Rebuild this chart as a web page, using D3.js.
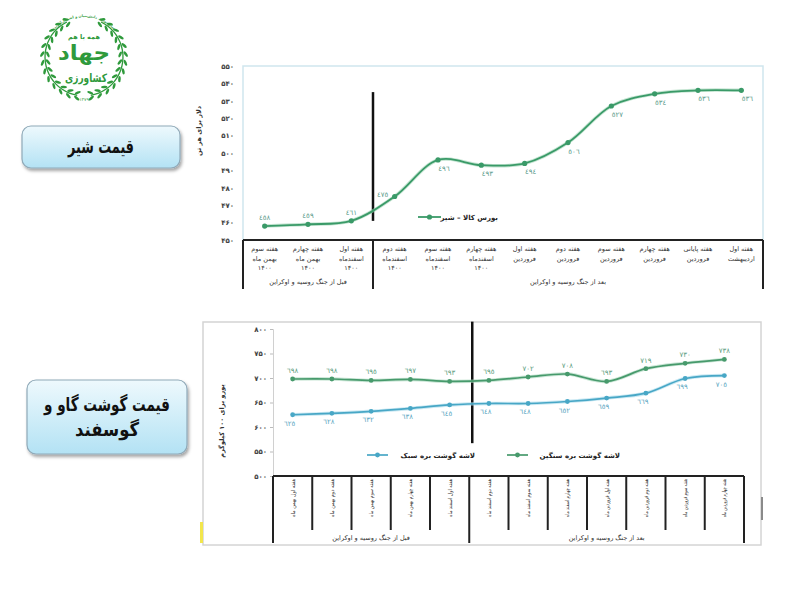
<!DOCTYPE html>
<html>
<head>
<meta charset="utf-8">
<script src="https://cdn.jsdelivr.net/npm/d3@7"></script>
<style>
  body { margin: 0; background: #fff; }
  svg { font-family: "DejaVu Sans", "Noto Sans", sans-serif; }
</style>
</head>
<body>
<svg id="page" width="800" height="600"></svg>
<script>
// ---- milk chart data ----
const milkCategories = [
    ["هفته سوم", "بهمن ماه", "۱۴۰۰"],
    ["هفته چهارم", "بهمن ماه", "۱۴۰۰"],
    ["هفته اول", "اسفندماه", "۱۴۰۰"],
    ["هفته دوم", "اسفندماه", "۱۴۰۰"],
    ["هفته سوم", "اسفندماه", "۱۴۰۰"],
    ["هفته چهارم", "اسفندماه", "۱۴۰۰"],
    ["هفته اول", "فروردین"],
    ["هفته دوم", "فروردین"],
    ["هفته سوم", "فروردین"],
    ["هفته چهارم", "فروردین"],
    ["هفته پایانی", "فروردین"],
    ["هفته اول", "اردیبهشت"]
];
const milkValues = [458, 459, 461, 475, 496, 493, 494, 506, 527, 534, 536, 536];
const milkTicks = [450, 460, 470, 480, 490, 500, 510, 520, 530, 540, 550];
const milkGroups = ["قبل از جنگ روسیه و اوکراین", "بعد از جنگ روسیه و اوکراین"];
const milkGroupSizes = [3, 9];

// ---- meat chart data ----
const meatCategories = [
    "هفته اول بهمن ماه", "هفته دوم بهمن ماه", "هفته سوم بهمن ماه", "هفته چهارم بهمن ماه",
    "هفته اول اسفند ماه", "هفته دوم اسفند ماه", "هفته سوم اسفند ماه", "هفته چهارم اسفند ماه",
    "هفته اول فروردین ماه", "هفته دوم فروردین ماه", "هفته سوم فروردین ماه", "هفته چهارم فروردین ماه"
];
const heavyLamb = [698, 698, 695, 697, 693, 695, 702, 708, 693, 719, 730, 738];
const lightLamb = [625, 628, 632, 638, 645, 648, 648, 652, 659, 669, 699, 705];
const meatTicks = [500, 550, 600, 650, 700, 750, 800];
const meatGroups = ["قبل از جنگ روسیه و اوکراین", "بعد از جنگ روسیه و اوکراین"];
const meatGroupSizes = [5, 7];

// digits
const faDigits = "۰۱۲۳۴۵۶۷۸۹";
const arDigits = "٠١٢٣٤٥٦٧٨٩";
const toFa = n => String(n).replace(/\d/g, d => faDigits[d]);
const toAr = n => String(n).replace(/\d/g, d => arDigits[d]);

const svg = d3.select("#page");
const defs = svg.append("defs");

// ---------- logo ----------
function drawLogo() {
    const g = svg.append("g").attr("transform", "translate(84,57)");
    const green = "#2f9a3c";
    const r = 39;
    const sides = [d3.range(100, 245, 12), d3.range(80, -65, -12)];
    sides.forEach(angles => {
        const pts = angles.map(a => [r * Math.cos(a * Math.PI / 180), r * Math.sin(a * Math.PI / 180)]);
        g.append("path")
            .attr("d", d3.line().curve(d3.curveCardinal)(pts))
            .attr("fill", "none").attr("stroke", green).attr("stroke-width", 1.3);
        angles.forEach(a => {
            const rad = a * Math.PI / 180;
            [-2.8, 2.8].forEach(off => {
                const rr = r + off;
                const px = rr * Math.cos(rad), py = rr * Math.sin(rad);
                g.append("ellipse")
                    .attr("cx", px).attr("cy", py)
                    .attr("rx", 3.2).attr("ry", 1.3)
                    .attr("transform", `rotate(${a + 90 + (off > 0 ? 30 : -30) * (a > 90 ? 1 : -1)},${px},${py})`)
                    .attr("fill", green);
            });
        });
    });
    defs.append("path").attr("id", "logoArc")
        .attr("d", "M-30,-27 A41,41 0 0,1 30,-27");
    g.append("text").attr("font-size", 3.6).attr("fill", green).attr("font-weight", "bold")
        .append("textPath").attr("href", "#logoArc").attr("startOffset", "50%")
        .attr("text-anchor", "middle").text("سال تولید، دانش‌بنیان و اشتغال‌آفرین");
    g.append("text").attr("y", -18).attr("text-anchor", "middle")
        .attr("font-size", 6.5).attr("font-weight", "bold").attr("fill", green).text("همه با هم");
    g.append("text").attr("y", 3).attr("text-anchor", "middle")
        .attr("font-size", 21).attr("font-weight", "bold").attr("fill", green)
        .attr("textLength", 52).attr("lengthAdjust", "spacingAndGlyphs").text("جهاد");
    g.append("text").attr("x", 2).attr("y", 25).attr("text-anchor", "middle")
        .attr("font-size", 11.5).attr("font-weight", "bold").attr("fill", green)
        .attr("textLength", 42).attr("lengthAdjust", "spacingAndGlyphs").text("کشاورزی");
    g.append("text").attr("y", 44).attr("text-anchor", "middle")
        .attr("font-size", 4.5).attr("fill", green).text(toFa(1379));
}

// ---------- title boxes ----------
const grad = defs.append("linearGradient").attr("id", "boxGrad")
    .attr("x1", 0).attr("y1", 0).attr("x2", 0).attr("y2", 1);
grad.append("stop").attr("offset", "0%").attr("stop-color", "#eef9fd");
grad.append("stop").attr("offset", "100%").attr("stop-color", "#b3e2f4");
const shadow = defs.append("filter").attr("id", "shadow")
    .attr("x", "-10%").attr("y", "-10%").attr("width", "130%").attr("height", "140%");
shadow.append("feDropShadow").attr("dx", 1.5).attr("dy", 2.5).attr("stdDeviation", 1.5)
    .attr("flood-color", "#000").attr("flood-opacity", 0.35);

function titleBox(x, y, w, h, lines, widths) {
    const g = svg.append("g");
    g.append("rect").attr("x", x).attr("y", y).attr("width", w).attr("height", h)
        .attr("rx", 9).attr("fill", "url(#boxGrad)")
        .attr("stroke", "#8fa9b8").attr("stroke-width", 1.2)
        .attr("filter", "url(#shadow)");
    const lh = 25;
    const y0 = y + h / 2 - (lines.length - 1) * lh / 2 + 6;
    lines.forEach((t, i) => {
        g.append("text").attr("x", x + w / 2).attr("y", y0 + i * lh)
            .attr("text-anchor", "middle").attr("font-size", 19).attr("font-weight", "bold")
            .attr("textLength", widths[i]).attr("lengthAdjust", "spacingAndGlyphs")
            .attr("fill", "#111").text(t);
    });
}

// ---------- milk chart ----------
function drawMilk() {
    const left = 243, right = 763, top = 66, bottom = 240;
    const x = d3.scaleBand().domain(d3.range(milkValues.length)).range([left, right]);
    const y = d3.scaleLinear().domain([450, 550]).range([bottom, top]);
    const cx = i => x(i) + x.bandwidth() / 2;
    const green = "#3a9a68";

    svg.append("rect").attr("x", left).attr("y", top).attr("width", right - left).attr("height", bottom - top)
        .attr("fill", "none").attr("stroke", "#cfe6ee").attr("stroke-width", 1.5);

    const ax = svg.append("g").attr("transform", `translate(${left},0)`)
        .call(d3.axisLeft(y).tickValues(milkTicks).tickSize(0).tickPadding(9).tickFormat(toFa));
    ax.select(".domain").remove();
    ax.selectAll("text").attr("font-size", 7).attr("font-weight", "bold").attr("fill", "#444")
        .attr("font-family", "DejaVu Sans");

    svg.append("text").attr("transform", `translate(201,${(top + bottom) / 2 - 22}) rotate(-90)`)
        .attr("text-anchor", "middle").attr("font-size", 6.5).attr("font-weight", "bold").attr("fill", "#333")
        .text("دلار برای هر تن");

    // war separator
    const sepX = x(milkGroupSizes[0]);
    svg.append("line").attr("x1", sepX).attr("x2", sepX).attr("y1", y(535)).attr("y2", y(461))
        .attr("stroke", "#111").attr("stroke-width", 2.5);

    const line = d3.line().x((d, i) => cx(i)).y(d => y(d)).curve(d3.curveCatmullRom.alpha(0.5));
    svg.append("path").datum(milkValues).attr("d", line)
        .attr("fill", "none").attr("stroke", "#9fd3b4").attr("stroke-width", 3.5).attr("opacity", 0.6);
    svg.append("path").datum(milkValues).attr("d", line)
        .attr("fill", "none").attr("stroke", green).attr("stroke-width", 1.8);
    svg.selectAll(".milkPt").data(milkValues).enter().append("circle")
        .attr("cx", (d, i) => cx(i)).attr("cy", d => y(d)).attr("r", 2.6).attr("fill", green);

    svg.selectAll(".milkLbl").data(milkValues).enter().append("text")
        .attr("x", (d, i) => cx(i) + (i < 3 ? 0 : i === 3 ? -12 : 6))
        .attr("y", (d, i) => y(d) + (i < 3 ? -6 : i === 3 ? 0 : 11))
        .attr("text-anchor", "middle").attr("font-size", 7).attr("fill", "#5c9c8c")
        .text(d => toAr(d));

    // legend
    svg.append("line").attr("x1", 418).attr("x2", 441).attr("y1", 217).attr("y2", 217)
        .attr("stroke", green).attr("stroke-width", 1.8);
    svg.append("circle").attr("cx", 429.5).attr("cy", 217).attr("r", 2.6).attr("fill", green);
    svg.append("text").attr("x", 498).attr("y", 220).attr("text-anchor", "end")
        .attr("font-size", 7).attr("font-weight", "bold").attr("fill", "#222").text("بورس کالا – شیر");

    // category table
    svg.append("line").attr("x1", left).attr("x2", right).attr("y1", bottom).attr("y2", bottom)
        .attr("stroke", "#222").attr("stroke-width", 2);
    [0, milkGroupSizes[0], milkValues.length].forEach(k => {
        const xx = k === milkValues.length ? right : x(k);
        svg.append("line").attr("x1", xx).attr("x2", xx).attr("y1", bottom).attr("y2", 289)
            .attr("stroke", "#222").attr("stroke-width", 2);
    });
    milkCategories.forEach((lines, i) => {
        lines.forEach((t, j) => {
            svg.append("text").attr("x", cx(i)).attr("y", 251 + j * 9.5)
                .attr("text-anchor", "middle").attr("font-size", 6.5).attr("fill", "#333").text(t);
        });
    });
    let start = 0;
    milkGroups.forEach((g, k) => {
        const end = start + milkGroupSizes[k];
        const mid = (x(start) + (end === milkValues.length ? right : x(end))) / 2;
        svg.append("text").attr("x", mid).attr("y", 284).attr("text-anchor", "middle")
            .attr("font-size", 6.5).attr("fill", "#333").text(g);
        start = end;
    });
}

// ---------- meat chart ----------
function drawMeat() {
    const left = 273, right = 744, top = 329, bottom = 476;
    const x = d3.scaleBand().domain(d3.range(meatCategories.length)).range([left, right]);
    const y = d3.scaleLinear().domain([500, 800]).range([bottom, top]);
    const cx = i => x(i) + x.bandwidth() / 2;
    const green = "#479a6c", blue = "#48a7c6";

    // outer frame
    svg.append("rect").attr("x", 203).attr("y", 322).attr("width", 558).attr("height", 223)
        .attr("fill", "none").attr("stroke", "#d4d4d4").attr("stroke-width", 1.5);
    svg.append("rect").attr("x", 200).attr("y", 522).attr("width", 3).attr("height", 21).attr("fill", "#f2e64c");
    svg.append("rect").attr("x", 761).attr("y", 497).attr("width", 2).attr("height", 23).attr("fill", "#8a8a8a");

    const ax = svg.append("g").attr("transform", `translate(${left},0)`)
        .call(d3.axisLeft(y).tickValues(meatTicks).tickSize(3).tickPadding(3).tickFormat(toFa));
    ax.select(".domain").attr("stroke", "#d0d0d0");
    ax.selectAll(".tick line").attr("stroke", "#bbb");
    ax.selectAll("text").attr("font-size", 7).attr("font-weight", "bold").attr("fill", "#444")
        .attr("font-family", "DejaVu Sans");

    svg.append("text").attr("transform", "translate(224,421) rotate(-90)")
        .attr("text-anchor", "middle").attr("font-size", 6.5).attr("font-weight", "bold").attr("fill", "#333")
        .text("یورو برای ۱۰۰ کیلوگرم");

    const sepX = x(meatGroupSizes[0]);
    svg.append("line").attr("x1", sepX + 3).attr("x2", sepX + 3).attr("y1", y(815)).attr("y2", y(567))
        .attr("stroke", "#111").attr("stroke-width", 2.5);

    const line = d3.line().x((d, i) => cx(i)).y(d => y(d)).curve(d3.curveCatmullRom.alpha(0.5));
    [[heavyLamb, green, "#a6d6bb"], [lightLamb, blue, "#a9dbeb"]].forEach(([vals, col, halo]) => {
        svg.append("path").datum(vals).attr("d", line)
            .attr("fill", "none").attr("stroke", halo).attr("stroke-width", 3.5).attr("opacity", 0.6);
        svg.append("path").datum(vals).attr("d", line)
            .attr("fill", "none").attr("stroke", col).attr("stroke-width", 1.7);
        svg.append("g").selectAll("circle").data(vals).enter().append("circle")
            .attr("cx", (d, i) => cx(i)).attr("cy", d => y(d)).attr("r", 2.4).attr("fill", col);
    });
    svg.append("g").selectAll("text").data(heavyLamb).enter().append("text")
        .attr("x", (d, i) => cx(i)).attr("y", d => y(d) - 6)
        .attr("text-anchor", "middle").attr("font-size", 7).attr("fill", "#5b9d7e").text(d => toAr(d));
    svg.append("g").selectAll("text").data(lightLamb).enter().append("text")
        .attr("x", (d, i) => cx(i) - 3).attr("y", d => y(d) + 11)
        .attr("text-anchor", "middle").attr("font-size", 7).attr("fill", "#5aa6bf").text(d => toAr(d));

    // legends
    svg.append("line").attr("x1", 367).attr("x2", 388).attr("y1", 455).attr("y2", 455)
        .attr("stroke", blue).attr("stroke-width", 1.7);
    svg.append("circle").attr("cx", 377.5).attr("cy", 455).attr("r", 2.4).attr("fill", blue);
    svg.append("text").attr("x", 475).attr("y", 458).attr("text-anchor", "end")
        .attr("font-size", 7).attr("font-weight", "bold").attr("fill", "#222").text("لاشه گوشت بره سبک");
    svg.append("line").attr("x1", 507).attr("x2", 528).attr("y1", 455).attr("y2", 455)
        .attr("stroke", green).attr("stroke-width", 1.7);
    svg.append("circle").attr("cx", 517.5).attr("cy", 455).attr("r", 2.4).attr("fill", green);
    svg.append("text").attr("x", 620).attr("y", 458).attr("text-anchor", "end")
        .attr("font-size", 7).attr("font-weight", "bold").attr("fill", "#222").text("لاشه گوشت بره سنگین");

    // category table
    svg.append("line").attr("x1", left).attr("x2", right).attr("y1", bottom).attr("y2", bottom)
        .attr("stroke", "#222").attr("stroke-width", 2);
    d3.range(meatCategories.length + 1).forEach(k => {
        const xx = k === meatCategories.length ? right : x(k);
        const full = k === 0 || k === meatGroupSizes[0] || k === meatCategories.length;
        svg.append("line").attr("x1", xx).attr("x2", xx).attr("y1", bottom).attr("y2", full ? 543 : 530)
            .attr("stroke", "#222").attr("stroke-width", 2);
    });
    meatCategories.forEach((t, i) => {
        svg.append("text").attr("transform", `translate(${cx(i) + 2},498) rotate(-90)`)
            .attr("text-anchor", "middle").attr("font-size", 5.5)
            .attr("textLength", 38).attr("lengthAdjust", "spacingAndGlyphs")
            .attr("fill", "#333").text(t);
    });
    let start = 0;
    meatGroups.forEach((g, k) => {
        const end = start + meatGroupSizes[k];
        const mid = (x(start) + (end === meatCategories.length ? right : x(end))) / 2;
        svg.append("text").attr("x", mid).attr("y", 540).attr("text-anchor", "middle")
            .attr("font-size", 6.5).attr("fill", "#333").text(g);
        start = end;
    });
}

drawLogo();
titleBox(22, 126, 158, 42, ["قیمت شیر"], [66]);
titleBox(27, 380, 160, 74, ["قیمت گوشت گاو و", "گوسفند"], [126, 64]);
drawMilk();
drawMeat();
</script>
</body>
</html>
